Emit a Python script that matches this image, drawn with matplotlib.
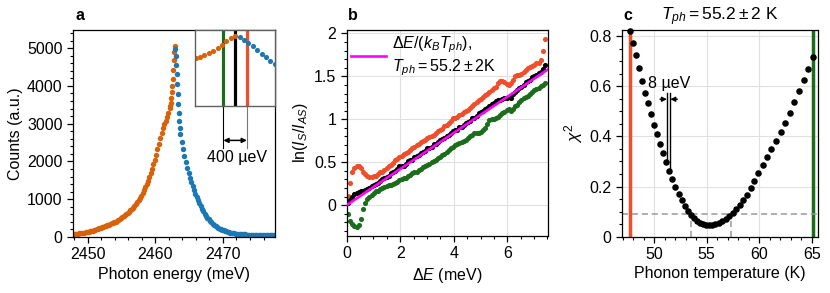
import numpy as np
import matplotlib
matplotlib.use("Agg")
import matplotlib.pyplot as plt
from matplotlib.ticker import MultipleLocator, FuncFormatter

plt.rcParams['font.family'] = ['Liberation Sans', 'DejaVu Sans']
plt.rcParams['mathtext.fontset'] = 'custom'
plt.rcParams['mathtext.rm'] = 'Liberation Sans'
plt.rcParams['mathtext.it'] = 'Liberation Sans:italic'
plt.rcParams['mathtext.bf'] = 'Liberation Sans:bold'

# ---------------- data: panel a (spectrum) ----------------
orange_tail_E = 2447.9 + 0.2 * np.arange(72)
orange_tail_counts = [
    75, 79, 83, 88, 93, 98, 104, 110, 117, 124,
    132, 140, 149, 158, 168, 178, 189, 200, 212, 226,
    241, 257, 272, 286, 300, 314, 329, 344, 360, 376,
    392, 408, 428, 449, 471, 494, 518, 545, 575, 605,
    636, 668, 702, 738, 778, 822, 868, 918, 970, 1030,
    1095, 1165, 1240, 1320, 1405, 1495, 1590, 1690, 1800, 1920,
    2050, 2180, 2320, 2470, 2620, 2760, 2880, 2980, 3070, 3170,
    3290, 3420]
orange_peak_E = 2462.175 + 0.075 * np.arange(10)
orange_peak_counts = [3480, 3540, 3680, 3830, 4000, 4180, 4420, 4680, 4900, 5050]
blue_peak_E = 2462.925 + 0.075 * np.arange(10)
blue_peak_counts = [4980, 4790, 4560, 4310, 4050, 3780, 3530, 3280, 3060, 2880]
blue_tail_E = 2463.7 + 0.2 * np.arange(72)
blue_tail_counts = [
    2740, 2520, 2320, 2140, 1980, 1830, 1700, 1570, 1450, 1340,
    1240, 1145, 1055, 970, 890, 815, 745, 680, 620, 565,
    515, 470, 428, 390, 355, 323, 294, 268, 245, 224,
    205, 188, 173, 160, 148, 137, 127, 118, 110, 103,
    97, 91, 86, 82, 78, 75, 72, 70, 68, 66,
    64, 63, 62, 61, 60, 59, 58, 58, 57, 57,
    56, 56, 55, 55, 54, 54, 54, 53, 53, 53,
    52, 52]
peak_center = 2462.85
window_half = 0.2  # meV (400 ueV window)

# ---------------- data: panel b ----------------
dE = 0.05 + 0.08 * np.arange(93)
ln_red = [0.11, 0.26, 0.38, 0.43, 0.45, 0.45, 0.43, 0.39, 0.36, 0.34,
          0.33, 0.33, 0.34, 0.34, 0.36, 0.38, 0.39, 0.41, 0.43, 0.45,
          0.47, 0.49, 0.52, 0.54, 0.56, 0.57, 0.59, 0.61, 0.62, 0.64,
          0.66, 0.68, 0.70, 0.71, 0.73, 0.75, 0.76, 0.78, 0.79, 0.81,
          0.82, 0.84, 0.86, 0.88, 0.89, 0.92, 0.93, 0.96, 0.98, 1.01,
          1.02, 1.03, 1.05, 1.06, 1.08, 1.10, 1.11, 1.13, 1.15, 1.18,
          1.20, 1.22, 1.24, 1.26, 1.28, 1.30, 1.32, 1.34, 1.36, 1.38,
          1.42, 1.44, 1.44, 1.43, 1.41, 1.40, 1.42, 1.46, 1.50, 1.51,
          1.52, 1.53, 1.55, 1.57, 1.60, 1.61, 1.62, 1.63, 1.65, 1.66,
          1.69, 1.79, 1.94]
ln_black = [0.03, 0.06, 0.10, 0.13, 0.14, 0.15, 0.16, 0.16, 0.18, 0.19,
            0.20, 0.22, 0.24, 0.25, 0.26, 0.28, 0.30, 0.32, 0.33, 0.34,
            0.37, 0.39, 0.40, 0.42, 0.45, 0.46, 0.46, 0.48, 0.51, 0.52,
            0.53, 0.56, 0.57, 0.58, 0.61, 0.62, 0.63, 0.66, 0.66, 0.68,
            0.71, 0.71, 0.73, 0.76, 0.77, 0.78, 0.81, 0.82, 0.84, 0.86,
            0.87, 0.88, 0.91, 0.91, 0.93, 0.96, 0.97, 0.98, 1.01, 1.02,
            1.04, 1.07, 1.08, 1.10, 1.12, 1.13, 1.15, 1.18, 1.19, 1.21,
            1.23, 1.23, 1.24, 1.25, 1.25, 1.26, 1.25, 1.29, 1.32, 1.34,
            1.36, 1.38, 1.40, 1.43, 1.44, 1.46, 1.49, 1.50, 1.51, 1.54,
            1.55, 1.59, 1.63]
ln_green = [-0.10, -0.19, -0.22, -0.24, -0.25, -0.23, -0.16, -0.04, 0.03, 0.07,
            0.10, 0.12, 0.14, 0.16, 0.17, 0.19, 0.20, 0.21, 0.22, 0.23,
            0.24, 0.25, 0.26, 0.27, 0.29, 0.30, 0.31, 0.32, 0.34, 0.35,
            0.37, 0.38, 0.39, 0.41, 0.42, 0.44, 0.45, 0.47, 0.48, 0.50,
            0.51, 0.53, 0.55, 0.56, 0.58, 0.60, 0.62, 0.64, 0.66, 0.68,
            0.70, 0.71, 0.72, 0.73, 0.75, 0.76, 0.78, 0.80, 0.82, 0.84,
            0.84, 0.84, 0.85, 0.87, 0.90, 0.94, 0.99, 1.00, 1.00, 1.01,
            1.03, 1.05, 1.07, 1.09, 1.11, 1.12, 1.10, 1.12, 1.15, 1.17,
            1.20, 1.23, 1.25, 1.26, 1.27, 1.29, 1.32, 1.34, 1.35, 1.37,
            1.39, 1.40, 1.42]
T_fit = 55.2      # K
k_B = 0.08617     # meV/K

# ---------------- data: panel c ----------------
T_ph = [47.72, 47.98, 48.26, 48.55, 48.83, 49.12, 49.40, 49.66, 49.95, 50.23,
        50.52, 50.83, 51.12, 51.43, 51.72, 52.00, 52.33, 52.61, 52.90, 53.19,
        53.47, 53.76, 54.04, 54.33, 54.62, 54.91, 55.21, 55.52, 55.83, 56.15,
        56.48, 56.81, 57.14, 57.47, 57.80, 58.14, 58.48, 58.83, 59.19, 59.54,
        59.91, 60.32, 60.74, 61.16, 61.60, 62.04, 62.48, 62.93, 63.36, 63.79,
        64.22, 64.65, 65.12]
chi2 = [0.820, 0.773, 0.723, 0.672, 0.622, 0.574, 0.531, 0.489, 0.446, 0.409,
        0.371, 0.332, 0.296, 0.262, 0.230, 0.198, 0.171, 0.146, 0.124, 0.104,
        0.088, 0.074, 0.063, 0.055, 0.050, 0.047, 0.046, 0.047, 0.050, 0.055,
        0.062, 0.071, 0.082, 0.095, 0.110, 0.127, 0.146, 0.168, 0.193, 0.221,
        0.252, 0.284, 0.316, 0.349, 0.382, 0.418, 0.454, 0.494, 0.537, 0.579,
        0.623, 0.669, 0.715]
T_low_line, T_high_line = 47.7, 65.1
chi2_threshold = 0.09
T_err_low, T_err_high = 53.5, 57.3
ann_T1, ann_T2 = 51.21, 51.53
ann_chi1, ann_chi2 = 0.30, 0.267

# ---------------- styling ----------------
C_OR = '#d8620a'
C_BL = '#1a78b4'
C_RED = '#f04e2a'
C_GRN = '#1b6d1b'
FS = 11.5
MS_A = 3.9
MS_B = 3.7

W, H = 830, 293
fig = plt.figure(figsize=(W / 100, H / 100), dpi=100)

def px_axes(l, t, r, b):
    return fig.add_axes([l / W, 1 - b / H, (r - l) / W, (b - t) / H])

def style(ax):
    ax.tick_params(which='major', direction='out', length=4, width=0.9, labelsize=FS)
    ax.tick_params(which='minor', direction='out', length=2.5, width=0.8)
    for s in ax.spines.values():
        s.set_linewidth(0.9)

gfmt = FuncFormatter(lambda v, p: '%g' % v)

def draw_spectrum(ax, ms):
    ax.plot(orange_tail_E, orange_tail_counts, 'o', ms=ms, mew=0, color=C_OR)
    ax.plot(orange_peak_E, orange_peak_counts, 'o', ms=ms, mew=0, color=C_OR)
    ax.plot(blue_peak_E, blue_peak_counts, 'o', ms=ms, mew=0, color=C_BL)
    ax.plot(blue_tail_E, blue_tail_counts, 'o', ms=ms, mew=0, color=C_BL)

# ---------------- panel a ----------------
ax_a = px_axes(73, 30, 275, 237)
style(ax_a)
draw_spectrum(ax_a, MS_A)
ax_a.set_xlim(2447.8, 2477.7)
ax_a.set_ylim(0, 5480)
ax_a.xaxis.set_major_locator(MultipleLocator(10))
ax_a.xaxis.set_minor_locator(MultipleLocator(2))
ax_a.yaxis.set_major_locator(MultipleLocator(1000))
ax_a.yaxis.set_minor_locator(MultipleLocator(200))
ax_a.set_xlabel('Photon energy (meV)', fontsize=FS, labelpad=3)
ax_a.set_ylabel('Counts (a.u.)', fontsize=FS, labelpad=3)

ax_in = px_axes(194.7, 30, 275, 106)
draw_spectrum(ax_in, MS_B)
ax_in.set_xlim(peak_center - 0.69, peak_center + 0.68)
ax_in.set_ylim(0, 5480)
ax_in.set_xticks([])
ax_in.set_yticks([])
for s in ax_in.spines.values():
    s.set_color('#606060')
    s.set_linewidth(1.0)
ax_in.axvline(peak_center - window_half, color=C_GRN, lw=2.3, zorder=1)
ax_in.axvline(peak_center, color='k', lw=2.3, zorder=1)
ax_in.axvline(peak_center + window_half, color=C_RED, lw=2.3, zorder=1)
ax_in.plot([peak_center - window_half] * 2, [0, -3050], color='k', lw=0.8, clip_on=False)
ax_in.plot([peak_center + window_half] * 2, [0, -3050], color='#777777', lw=0.8, clip_on=False)
ax_in.annotate('', xy=(peak_center - window_half, -2480), xytext=(peak_center + window_half, -2480),
               arrowprops=dict(arrowstyle='<|-|>', color='k', lw=1.1, mutation_scale=7,
                               shrinkA=0, shrinkB=0), annotation_clip=False)
ax_in.text(peak_center + 0.03, -3700, '400 µeV', ha='center', va='center', fontsize=FS, clip_on=False)

# ---------------- panel b ----------------
ax_b = px_axes(346.7, 30, 548, 236)
style(ax_b)
ax_b.grid(True, which='major', color='#e0e0e0', lw=0.8)
ax_b.set_axisbelow(True)
ax_b.plot(dE, ln_red, 'o', ms=MS_B, mew=0, color=C_RED, zorder=2)
ax_b.plot(dE, ln_green, 'o', ms=MS_B, mew=0, color=C_GRN, zorder=2)
ax_b.plot(dE, ln_black, 'o', ms=MS_B, mew=0, color='k', zorder=2)
xfit = np.array([0.0, 7.5])
ax_b.plot(xfit, xfit / (k_B * T_fit), color='#ff00ff', lw=1.9, zorder=3,
          label='$\\Delta E/(k_BT_{ph})$,\n$T_{ph} = 55.2 \\pm 2$K')
ax_b.set_xlim(0, 7.52)
ax_b.set_ylim(-0.36, 2.04)
ax_b.xaxis.set_major_locator(MultipleLocator(2))
ax_b.xaxis.set_minor_locator(MultipleLocator(0.5))
ax_b.yaxis.set_major_locator(MultipleLocator(0.5))
ax_b.yaxis.set_minor_locator(MultipleLocator(0.1))
ax_b.yaxis.set_major_formatter(gfmt)
ax_b.set_xlabel('$\\Delta E$ (meV)', fontsize=FS, labelpad=3)
ax_b.set_ylabel('ln($I_S/I_{AS}$)', fontsize=FS, labelpad=3)
ax_b.legend(loc='upper left', frameon=False, fontsize=FS, handlelength=2.2,
            handletextpad=0.4, borderaxespad=0.05, borderpad=0.2, labelspacing=0.2)

# ---------------- panel c ----------------
ax_c = px_axes(621.7, 30, 818, 236.7)
style(ax_c)
ax_c.grid(True, which='major', color='#e0e0e0', lw=0.8)
ax_c.set_axisbelow(True)
ax_c.axvline(T_low_line, color=C_RED, lw=2.5, zorder=2)
ax_c.axvline(T_high_line, color=C_GRN, lw=2.5, zorder=2)
ax_c.axhline(chi2_threshold, color='#999999', lw=1.1, ls=(0, (4, 2.5)), zorder=2)
ax_c.plot([T_err_low, T_err_low], [0, chi2_threshold], color='#999999', lw=1.1, ls=(0, (4, 2.5)))
ax_c.plot([T_err_high, T_err_high], [0, chi2_threshold], color='#999999', lw=1.1, ls=(0, (4, 2.5)))
ax_c.plot(T_ph, chi2, 'o', ms=4.7, mew=0, color='k', zorder=3, clip_on=False)
ax_c.plot([ann_T1, ann_T1], [0.572, ann_chi1], color='k', lw=1.0, zorder=4)
ax_c.plot([ann_T2, ann_T2], [0.572, ann_chi2], color='k', lw=1.0, zorder=4)
ax_c.annotate('', xy=(ann_T1, 0.548), xytext=(50.55, 0.548),
              arrowprops=dict(arrowstyle='-|>', color='k', lw=1.0, mutation_scale=7, shrinkA=0, shrinkB=0))
ax_c.annotate('', xy=(ann_T2, 0.548), xytext=(52.2, 0.548),
              arrowprops=dict(arrowstyle='-|>', color='k', lw=1.0, mutation_scale=7, shrinkA=0, shrinkB=0))
ax_c.text(51.4, 0.611, '8 µeV', ha='center', va='center', fontsize=FS)
ax_c.set_xlim(46.9, 65.6)
ax_c.set_ylim(0, 0.824)
ax_c.xaxis.set_major_locator(MultipleLocator(5))
ax_c.xaxis.set_minor_locator(MultipleLocator(1))
ax_c.yaxis.set_major_locator(MultipleLocator(0.2))
ax_c.yaxis.set_minor_locator(MultipleLocator(0.05))
ax_c.yaxis.set_major_formatter(gfmt)
ax_c.set_xlabel('Phonon temperature (K)', fontsize=FS, labelpad=3)
ax_c.set_ylabel('$\\chi^2$', fontsize=FS + 1, labelpad=3)
ax_c.set_title('$T_{ph} = 55.2 \\pm 2$ K', fontsize=FS + 1, pad=7)

# panel letters
for x, lab in ((76, 'a'), (348, 'b'), (623, 'c')):
    fig.text(x / W, 1 - 20 / H, lab, fontsize=FS, fontweight='bold', va='baseline', ha='left')

fig.savefig('out.png', dpi=100)
